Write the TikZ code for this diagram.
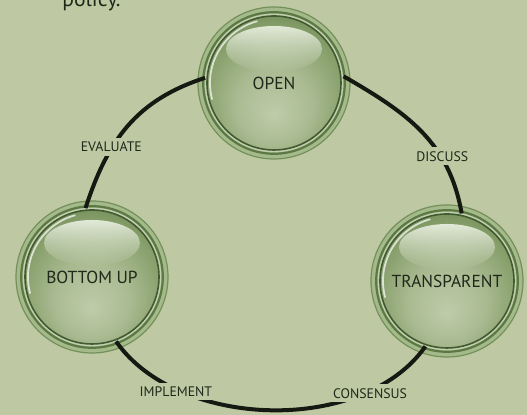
\documentclass[tikz,border=0pt]{standalone}
\usepackage{fontspec}
\newfontfamily\ptsans{PT Sans}
\usetikzlibrary{fadings}
\definecolor{bg}{RGB}{190,201,163}
\definecolor{ringfill}{RGB}{164,186,138}
\definecolor{ringedge}{RGB}{116,144,90}
\definecolor{ringline}{RGB}{92,120,68}
\definecolor{gapcol}{RGB}{194,208,176}
\definecolor{ballin}{RGB}{190,204,170}
\definecolor{ballinmid}{RGB}{170,187,146}
\definecolor{ballmid}{RGB}{136,160,108}
\definecolor{ballout}{RGB}{100,128,76}
\definecolor{balledge}{RGB}{66,90,48}
\definecolor{hilite}{RGB}{236,242,228}
\definecolor{txt}{RGB}{32,40,26}
\definecolor{linecol}{RGB}{22,24,18}
\pgfdeclareradialshading{ballsh}{\pgfpoint{0bp}{-12bp}}{color(0bp)=(ballin); color(14bp)=(ballinmid); color(26bp)=(ballmid); color(36bp)=(ballout); color(50bp)=(ballout)}
\tikzset{
  ball/.style={circle, minimum size=76pt, inner sep=0pt, fill=ringfill, draw=ringedge,
    line width=0.6pt, text=txt, font=\ptsans\fontsize{8.7}{10}\selectfont,
    path picture={
      \fill[gapcol] (path picture bounding box.center) circle (34.6pt);
      \draw[ringline, line width=1.1pt] (path picture bounding box.center) circle (35.4pt);
      \shade[shading=ballsh] (path picture bounding box.center) circle (33.5pt);
      \fill[hilite, path fading=south, fill opacity=0.9] ([yshift=17pt]path picture bounding box.center) ellipse (24pt and 11.5pt);
      \draw[balledge, line width=0.8pt] (path picture bounding box.center) circle (33.5pt);
      \draw[white, opacity=0.7, line width=0.9pt] ([shift={(105:32pt)}]path picture bounding box.center) arc (105:195:32pt);
    }},
  conn/.style={draw=linecol, line width=2pt, shorten <=-4pt, shorten >=-4pt},
  lab/.style={fill=bg, inner sep=2pt, text=txt, font=\ptsans\fontsize{6.9}{8}\selectfont},
}
\begin{document}
\begin{tikzpicture}[x=0.5pt, y=0.5pt]
  \useasboundingbox (0,0) rectangle (527,415);
  \clip (0,0) rectangle (527,415);
  \fill[bg] (0,0) rectangle (527,415);
  \node[anchor=base west, inner sep=0pt, text=txt, font=\ptsans\fontsize{10.8}{12}\selectfont] (policy) at (62,408) {policy.};
  \node[ball] (open) at (274,332) {\raisebox{-3pt}{OPEN}};
  \node[ball] (bottom) at (92,138) {\raisebox{-4pt}{BOTTOM UP}};
  \node[ball] (transp) at (447,134) {\raisebox{-3pt}{TRANSPARENT}};
  \draw[conn] (open.2) .. controls +(-30:65) and +(100:65) .. (transp.80)
    node[lab, pos=0.7] {DISCUSS};
  \draw[conn] (transp.250) .. controls +(-125:100) and +(-55:100) .. (bottom.292)
    node[lab, pos=0.21] {CONSENSUS}
    node[lab, pos=0.775] {IMPLEMENT};
  \draw[conn] (bottom.93) .. controls +(72:64) and +(198:64) .. (open.178)
    node[lab, pos=0.33] {EVALUATE};
\end{tikzpicture}
\end{document}
